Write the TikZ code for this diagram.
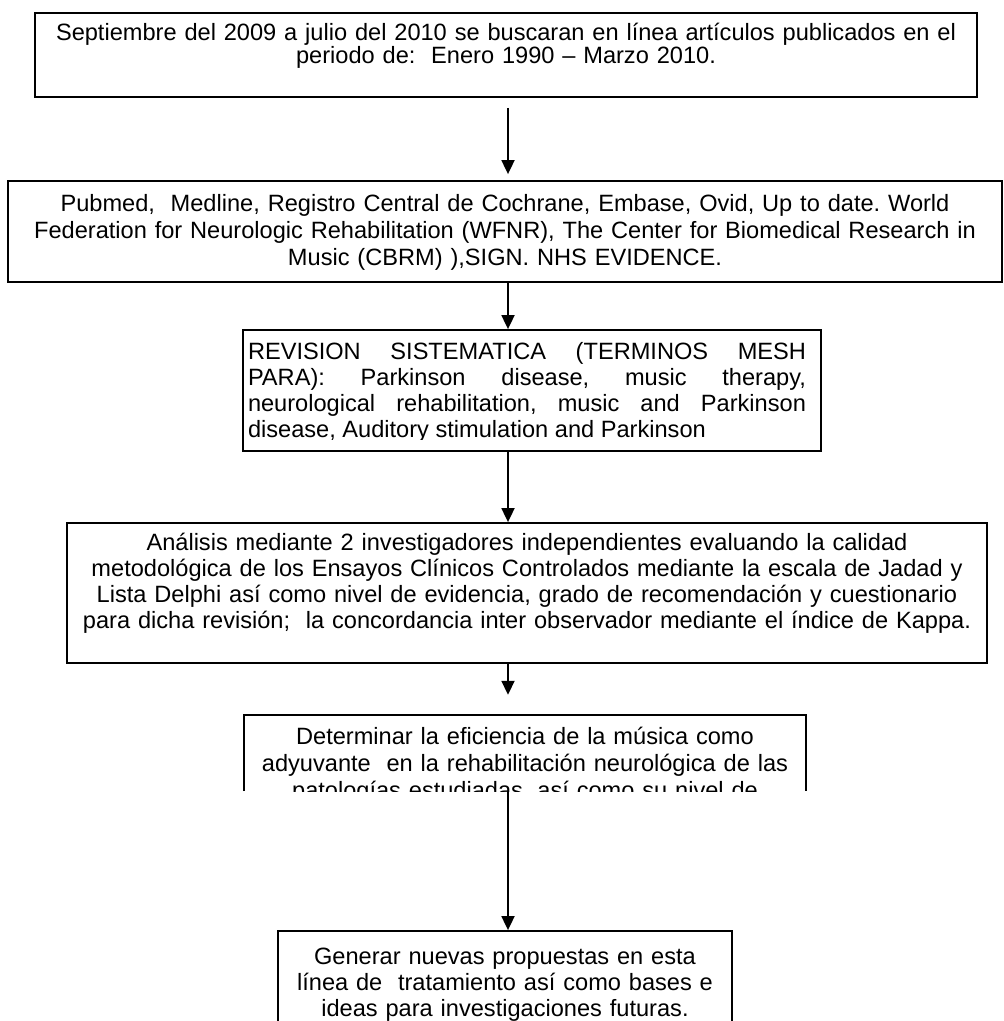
\documentclass[tikz,border=0pt]{standalone}
\usepackage{fontspec}
\setmainfont{Liberation Sans}
\frenchspacing
\usetikzlibrary{arrows.meta,positioning,calc}
\tikzset{
  flowbox/.style={
    draw,
    line width=1.8pt,
    inner sep=0pt
  },
  flowarrow/.style={-{Triangle[length=14pt,width=13pt]},line width=1.8pt}
}
% texto anclado arriba y recortado por dentro de la caja
\newcommand{\boxtxt}[5][]{%
  \clip ([yshift=#2]path picture bounding box.south west) rectangle (path picture bounding box.north east);
  \node[anchor=north,draw=none,minimum width=0pt,minimum height=0pt,
    text width=#3,align=#4,inner sep=0pt,
    font=\fontsize{23.6}{26}\selectfont,#1]
    at ([yshift=-6pt]path picture bounding box.north) {\rule{0pt}{21pt}#5};}

\begin{document}
\begin{tikzpicture}[x=1pt,y=-1pt]
  \useasboundingbox (0,0) rectangle (1004,1021);
  \coordinate (spine) at (508,0);
  \node[flowbox,minimum width=942pt,minimum height=84pt,
    path picture={\boxtxt[font=\fontsize{23.6}{22.5}\selectfont]{0pt}{935pt}{center}{Septiembre del 2009 a julio del 2010 se buscaran en línea artículos publicados en el\\ periodo de:\ \ Enero 1990 – Marzo 2010.}}]
    (busq) at (506,55) {};
  \node[flowbox,minimum width=994pt,minimum height=101pt,
    path picture={\boxtxt[yshift=-3pt,font=\fontsize{23.6}{27}\selectfont]{0pt}{985pt}{center}{Pubmed,\ \ Medline, Registro Central de Cochrane, Embase, Ovid, Up to date. World\\ Federation for Neurologic Rehabilitation (WFNR), The Center for Biomedical Research in\\ Music (CBRM) ),SIGN. NHS EVIDENCE.}}]
    (bases) at (505,231.5) {};
  \node[flowbox,minimum width=578pt,minimum height=121pt,
    path picture={\boxtxt[xshift=-5pt,yshift=-2pt]{12pt}{558pt}{justify}{REVISION SISTEMATICA (TERMINOS MESH\linebreak PARA): Parkinson disease, music therapy,\linebreak neurological rehabilitation, music and Parkinson\linebreak disease, Auditory stimulation and Parkinson}}]
    (mesh) at (532,390.5) {};
  \node[flowbox,minimum width=920pt,minimum height=140pt,
    path picture={\boxtxt{0pt}{910pt}{center}{Análisis mediante 2 investigadores independientes evaluando la calidad\\ metodológica de los Ensayos Clínicos Controlados mediante la escala de Jadad y\\ Lista Delphi así como nivel de evidencia, grado de recomendación y cuestionario\\ para dicha revisión;\ \ la concordancia inter observador mediante el índice de Kappa.}}]
    (anal) at (527,593) {};
  \node[inner sep=0pt,minimum width=562pt,minimum height=76pt,
    path picture={\boxtxt[yshift=-2pt,font=\fontsize{23.6}{27}\selectfont]{0pt}{555pt}{center}{Determinar la eficiencia de la música como\\ adyuvante\ \ en la rehabilitación neurológica de las\\ patologías estudiadas, así como su nivel de}}]
    (efic) at (525,753) {};
  \draw[flowbox] (efic.south west) -- (efic.north west) -- (efic.north east) -- (efic.south east);
  \node[flowbox,minimum width=454pt,minimum height=130pt,
    path picture={\boxtxt[yshift=-6pt]{0pt}{448pt}{center}{Generar nuevas propuestas en esta\\ línea de\ \ tratamiento así como bases e\\ ideas para investigaciones futuras.}}]
    (prop) at (505,996) {};
  % flechas
  \draw[flowarrow,shorten <=10pt,shorten >=6pt] (busq.south -| spine) -- (bases.north -| spine);
  \draw[flowarrow] (bases.south -| spine) -- (mesh.north -| spine);
  \draw[flowarrow] (mesh.south -| spine) -- (anal.north -| spine);
  \draw[flowarrow,shorten >=20pt] (anal.south -| spine) -- (efic.north -| spine);
  \draw[flowarrow] (efic.south -| spine) -- (prop.north -| spine);
\end{tikzpicture}
\end{document}
